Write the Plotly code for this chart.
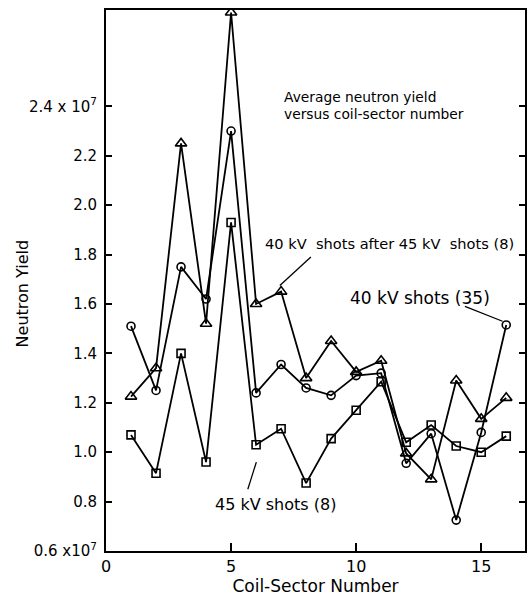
import plotly.graph_objects as go

sectors = list(range(1, 17))
yield_40kv = [1.51, 1.25, 1.75, 1.62, 2.30, 1.24, 1.355, 1.26, 1.23, 1.31, 1.32, 0.955, 1.075, 0.725, 1.08, 1.515]
yield_40kv_after45 = [1.225, 1.34, 2.25, 1.52, 2.78, 1.60, 1.65, 1.30, 1.45, 1.325, 1.37, 0.995, 0.89, 1.29, 1.135, 1.22]
yield_45kv = [1.07, 0.915, 1.40, 0.96, 1.93, 1.03, 1.095, 0.875, 1.055, 1.17, 1.285, 1.04, 1.11, 1.025, 1.0, 1.065]

y_tickvals = [0.6, 0.8, 1.0, 1.2, 1.4, 1.6, 1.8, 2.0, 2.2, 2.4]
y_ticktext = ["0.6 x10<sup>7</sup>", "0.8", "1.0", "1.2", "1.4", "1.6", "1.8", "2.0", "2.2", "2.4 x 10<sup>7</sup>"]
x_tickvals = [0, 5, 10, 15]
x_ticktext = ["0", "5", "10", "15"]

FONT = "DejaVu Sans"
fig = go.Figure()

series = [
    (yield_40kv, "circle-open", 8, "40 kV shots (35)"),
    (yield_40kv_after45, "triangle-up-open", 10, "40 kV shots after 45 kV shots (8)"),
    (yield_45kv, "square-open", 8, "45 kV shots (8)"),
]
for vals, sym, sz, name in series:
    fig.add_trace(go.Scatter(
        x=sectors, y=vals, mode="lines+markers", name=name,
        line=dict(color="black", width=1.8),
        marker=dict(symbol=sym, size=sz, color="black", line=dict(width=1.6, color="black")),
        showlegend=False,
    ))

# leader lines
leaders = [
    ((8.19, 1.79), (6.95, 1.675)),
    ((14.35, 1.59), (15.85, 1.53)),
    ((6.01, 0.96), (5.67, 0.85)),
]
for (x0, y0), (x1, y1) in leaders:
    fig.add_shape(type="line", x0=x0, y0=y0, x1=x1, y1=y1, xref="x", yref="y",
                  line=dict(color="black", width=1.3))

annos = [
    dict(x=7.08, y=2.436, text="Average neutron yield", size=13.8),
    dict(x=7.08, y=2.370, text="versus coil-sector number", size=13.8),
    dict(x=6.33, y=1.845, text="40 kV  shots after 45 kV  shots (8)", size=14.6),
    dict(x=9.71, y=1.625, text="40 kV shots (35)", size=17),
    dict(x=4.30, y=0.79, text="45 kV shots (8)", size=16),
]
for a in annos:
    fig.add_annotation(x=a["x"], y=a["y"], xref="x", yref="y", text=a["text"],
                       showarrow=False, xanchor="left", yanchor="middle", align="left",
                       borderpad=0,
                       font=dict(family=FONT, size=a["size"], color="black"))

fig.add_annotation(xref="paper", yref="paper", x=(22 - 106) / 421, y=1 - (293 - 10) / 541,
                   xanchor="center", yanchor="middle", text="Neutron Yield", showarrow=False,
                   textangle=-90, font=dict(family=FONT, size=16, color="black"))

fig.update_layout(
    width=528, height=597,
    margin=dict(l=106, r=1, t=10, b=46),
    paper_bgcolor="white", plot_bgcolor="white",
    font=dict(family=FONT, color="black"),
)

fig.update_xaxes(
    range=[0, 16.75], tickvals=x_tickvals, ticktext=x_ticktext,
    showline=True, linecolor="black", linewidth=2, mirror=True,
    ticks="inside", ticklen=8, tickwidth=1.5, tickcolor="black",
    showgrid=False, zeroline=False, tickfont=dict(family=FONT, size=16),
    title=dict(text="Coil-Sector Number", font=dict(family=FONT, size=17), standoff=1),
)
fig.update_yaxes(
    range=[0.6, 2.79], tickvals=y_tickvals, ticktext=y_ticktext,
    showline=True, linecolor="black", linewidth=2, mirror="ticks",
    ticks="inside", ticklen=6, tickwidth=1.5, tickcolor="black",
    showgrid=False, zeroline=False, tickfont=dict(family=FONT, size=15),
    ticklabelstandoff=4,
)

fig.write_html("out.html")
